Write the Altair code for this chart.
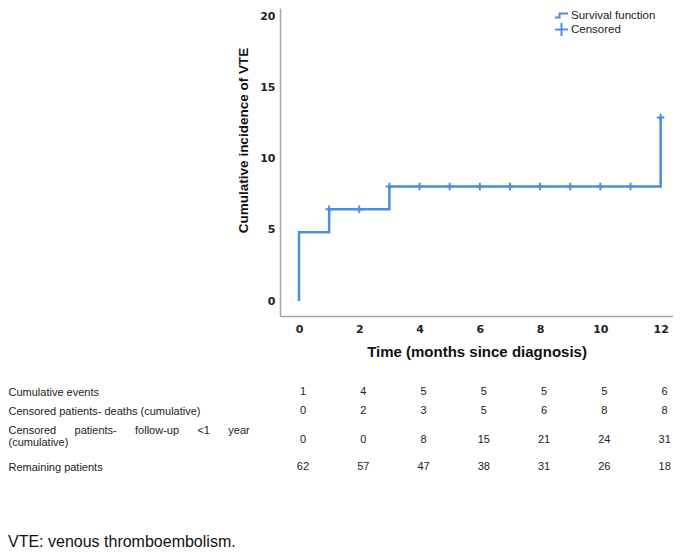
import json
import altair as alt
import pandas as pd

BLUE = "#4a8fe2"
NB = "\u00a0"

# ---- Kaplan-Meier style cumulative incidence ----
step_time = [0, 0, 1, 3, 12]
step_value = [0, 4.84, 6.45, 8.06, 12.9]

cens_time = [1, 2, 3, 4, 5, 6, 7, 8, 9, 10, 11, 12]
cens_value = [6.45, 6.45, 8.06, 8.06, 8.06, 8.06, 8.06, 8.06, 8.06, 8.06, 8.06, 12.9]

x_ticks = [0, 2, 4, 6, 8, 10, 12]
y_ticks = [0, 5, 10, 15, 20]

# ---- table under the chart ----
table_times = [0, 2, 4, 6, 8, 10, 12]
row_labels = [
    ["Cumulative events"],
    ["Censored patients- deaths (cumulative)"],
    [(NB * 6).join(["Censored", "patients-", "follow-up", "<1", "year"]), "(cumulative)"],
    ["Remaining patients"],
]
cum_events = [1, 4, 5, 5, 5, 5, 6]
cens_deaths = [0, 2, 3, 5, 6, 8, 8]
cens_followup = [0, 0, 8, 15, 21, 24, 31]
remaining = [62, 57, 47, 38, 31, 26, 18]

# ---- layout constants ----
PLOT_W, PLOT_H = 393, 308
TABLE_H = 90
ROW_POS = [8, 27, 46.5, 83]      # where each row label sits
VALUE_POS = [8, 27, 56, 83]      # where each row's numbers sit

STEP_PATH = "M-1,0.3H-0.3V-0.3H1"
CROSS_PATH = "M-1,0H1M0,-1V1"

step_df = pd.DataFrame({"time": step_time, "value": step_value})
cens_df = pd.DataFrame({"time": cens_time, "value": cens_value})
cens_df["series"] = "Censored"

x_scale = alt.Scale(domain=[-0.63, 12.41], nice=False, zero=False)
y_scale = alt.Scale(domain=[-1.05, 20.6], nice=False, zero=False)

x_axis = alt.Axis(
    values=x_ticks, title="Time (months since diagnosis)", grid=False, ticks=False,
    domainColor="#a6a6a6", domainWidth=1.5, labelFont="DejaVu Sans",
    labelFontWeight="bold", labelFontSize=11, labelColor="#222", labelPadding=7,
    labelFlush=False, titleFont="Liberation Sans", titleFontWeight="bold",
    titleFontSize=15, titleColor="#111", titlePadding=10,
)
y_axis = alt.Axis(
    values=y_ticks, title="Cumulative incidence of VTE", grid=False, ticks=False,
    domainColor="#a6a6a6", domainWidth=1.5, labelFont="DejaVu Sans",
    labelFontWeight="bold", labelFontSize=11, labelColor="#222", labelPadding=5,
    titleFont="Liberation Sans", titleFontWeight="bold", titleFontSize=13.5,
    titleColor="#111", titleX=-37, titleY=132, titleBaseline="middle",
)

line = alt.Chart(step_df).mark_line(
    interpolate="step-after", color=BLUE, strokeWidth=2.5
).encode(
    x=alt.X("time:Q", scale=x_scale, axis=x_axis),
    y=alt.Y("value:Q", scale=y_scale, axis=y_axis),
)

points = alt.Chart(cens_df).mark_point(
    filled=False, size=56, strokeWidth=2, color=BLUE, opacity=1
).encode(
    x=alt.X("time:Q", scale=x_scale),
    y=alt.Y("value:Q", scale=y_scale),
    shape=alt.Shape(
        "series:N",
        scale=alt.Scale(domain=["Survival function", "Censored"], range=[STEP_PATH, CROSS_PATH]),
        legend=alt.Legend(
            title=None, orient="none", legendX=274, legendY=0, symbolSize=169,
            symbolStrokeColor=BLUE, symbolStrokeWidth=2, symbolFillColor="transparent",
            labelFont="Liberation Sans", labelFontSize=11.5, labelColor="#222",
            labelOffset=2, rowPadding=-3, padding=0,
        ),
    ),
)

top = alt.layer(line, points).properties(width=PLOT_W, height=PLOT_H)

# table data (long form)
recs = []
for pos, vals in zip(VALUE_POS, [cum_events, cens_deaths, cens_followup, remaining]):
    for t, v in zip(table_times, vals):
        recs.append({"row": pos, "time": t, "val": v})
table_df = pd.DataFrame(recs)

label_expr = (
    json.dumps(row_labels, ensure_ascii=False)
    + "[indexof(" + json.dumps(ROW_POS) + ", datum.value)]"
)

table = alt.Chart(table_df).mark_text(
    font="Liberation Sans", fontSize=11, color="#222", dx=4,
    align="center", baseline="middle",
).encode(
    x=alt.X("time:Q", scale=x_scale, axis=None),
    y=alt.Y(
        "row:Q",
        scale=alt.Scale(domain=[0, TABLE_H], reverse=True, nice=False, zero=False),
        axis=alt.Axis(
            values=ROW_POS, labelExpr=label_expr, labelAlign="left", labelBaseline="middle",
            labelPadding=272, labelLimit=400, labelOverlap=False, labelFlush=False,
            domain=False, ticks=False, grid=False, title=None,
            labelFont="Liberation Sans", labelFontSize=11, labelColor="#222",
            labelLineHeight=11.5,
        ),
    ),
    text="val:Q",
).properties(width=PLOT_W, height=TABLE_H)

chart = alt.vconcat(top, table, spacing=25).properties(
    padding=0,
    title=alt.Title(
        "VTE: venous thromboembolism.", orient="bottom", anchor="start",
        font="Liberation Sans", fontSize=16, fontWeight="normal", color="#111",
        offset=60,
    ),
).configure_view(stroke=None)

chart.save("out.html", embed_options={"renderer": "svg", "actions": False})
